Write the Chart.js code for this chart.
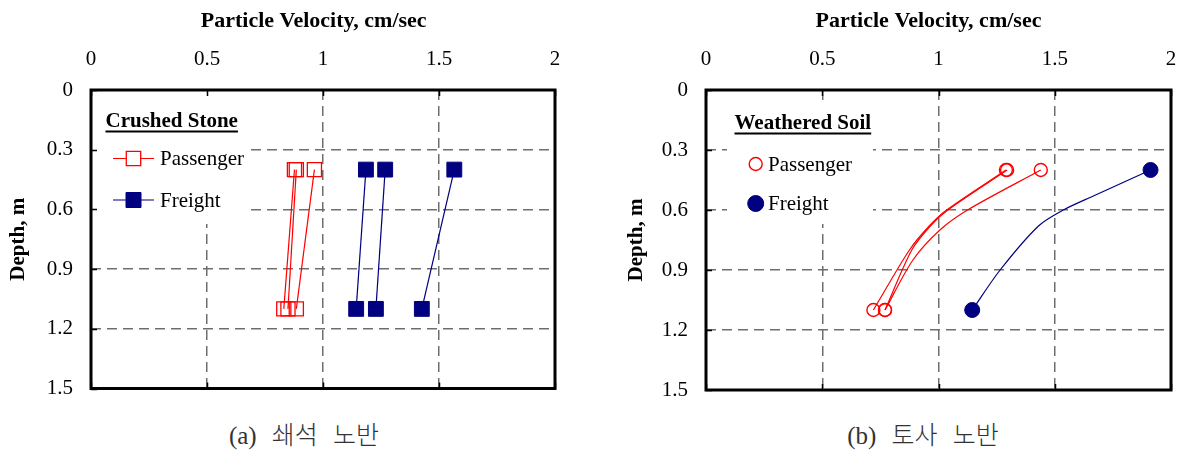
<!DOCTYPE html>
<html>
<head>
<meta charset="utf-8">
<script src="https://cdn.jsdelivr.net/npm/chart.js@4.4.1/dist/chart.umd.min.js"></script>
<style>
  html, body { margin: 0; padding: 0; background: #fff; }
  body { width: 1187px; height: 459px; position: relative; overflow: hidden; }
  canvas { position: absolute; top: 0; }
  #stone { left: 0; }
  #soil { left: 600px; }
  .caption {
    position: absolute; top: 420px; height: 32px; line-height: 32px;
    text-align: center; white-space: pre; word-spacing: 9px;
    font-family: "Liberation Serif", "Noto Sans CJK KR", serif;
    font-size: 25px; font-weight: 300; color: #333;
  }
</style>
</head>
<body>
<canvas id="stone" width="600" height="400"></canvas>
<canvas id="soil" width="587" height="400"></canvas>
<div class="caption" style="left:154px;width:300px">(a) 쇄석 노반</div>
<div class="caption" style="left:773px;width:300px">(b) 토사 노반</div>

<script>
// Axis ticks
const xTickValues = [0, 0.5, 1, 1.5, 2];
const xTickLabels = ['0', '0.5', '1', '1.5', '2'];
const yTickValues = [0, 0.3, 0.6, 0.9, 1.2, 1.5];
const yTickLabels = ['0', '0.3', '0.6', '0.9', '1.2', '1.5'];

// Crushed stone subgrade: particle velocity (cm/sec) at 0.4 m and 1.1 m depth
const stoneDepths = [0.4, 1.1];
const stonePassenger = [[0.877, 0.831], [0.885, 0.849], [0.963, 0.885]];
const stoneFreight = [[1.185, 1.143], [1.268, 1.228], [1.566, 1.426]];

// Weathered soil subgrade: velocity profiles with depth (m)
const soilPassengerDepths = [
  [0.4, 0.6, 0.68, 0.8, 1.1],
  [0.4, 0.6, 0.68, 0.8, 1.1],
  [0.4, 0.6, 0.7, 0.85, 1.1]
];
const soilPassenger = [
  [1.29, 1.035, 0.96, 0.875, 0.72],
  [1.295, 1.04, 0.965, 0.885, 0.77],
  [1.44, 1.125, 1.006, 0.89, 0.77]
];
const soilFreightDepths = [[0.4, 0.53, 0.6, 0.68, 0.9, 1.1]];
const soilFreight = [[1.912, 1.666, 1.537, 1.43, 1.265, 1.145]];

const RED = '#ff0000';
const NAVY = '#000080';
const GRID = '#6e6e6e';
const SERIF = '"Liberation Serif", "Times New Roman", serif';

function profiles(label, depthLists, valueLists, style) {
  return valueLists.map((vals, i) => ({
    label,
    data: vals.map((v, j) => ({ x: v, y: depthLists[i][j] })),
    ...style
  }));
}

// markers only at the measured end points of each profile
const endMarker = r => c => (c.dataIndex === 0 || c.dataIndex === c.dataset.data.length - 1) ? r : 0;

// White inset legend with underlined heading
const insetLegend = {
  id: 'insetLegend',
  beforeDatasetsDraw(chart, args, o) {
    const ctx = chart.ctx;
    const b = o.box;
    ctx.save();
    ctx.fillStyle = '#fff';
    ctx.fillRect(b.left, b.top, b.right - b.left, b.bottom - b.top);
    ctx.fillStyle = '#000';
    ctx.font = 'bold 21px ' + SERIF;
    ctx.textAlign = 'left';
    ctx.textBaseline = 'alphabetic';
    ctx.fillText(o.title, o.titleX, o.titleY);
    const w = ctx.measureText(o.title).width;
    ctx.fillRect(o.titleX, o.titleY + 3.5, w, 2);

    ctx.font = '21px ' + SERIF;
    ctx.textBaseline = 'middle';
    const seen = [];
    chart.data.datasets.forEach(ds => {
      if (seen.includes(ds.label)) return;
      const k = seen.length;
      seen.push(ds.label);
      const y = o.itemY + k * o.itemGap;
      const mx = o.markerX;
      if (o.lineHalf) {
        ctx.strokeStyle = ds.borderColor;
        ctx.lineWidth = ds.borderWidth;
        ctx.beginPath();
        ctx.moveTo(mx - o.lineHalf, y);
        ctx.lineTo(mx + o.lineHalf, y);
        ctx.stroke();
      }
      const r = o.markerSize[k];
      const filled = ds.pointBackgroundColor !== 'rgba(0,0,0,0)';
      ctx.fillStyle = filled ? ds.pointBackgroundColor : '#fff';
      ctx.strokeStyle = ds.pointBorderColor;
      ctx.lineWidth = ds.pointBorderWidth;
      ctx.beginPath();
      if (ds.pointStyle === 'rect') ctx.rect(mx - r, y - r, 2 * r, 2 * r);
      else ctx.arc(mx, y, r, 0, Math.PI * 2);
      ctx.fill();
      ctx.stroke();
      ctx.fillStyle = '#000';
      ctx.fillText(ds.label, o.textX, y + 1);
    });
    ctx.restore();
  }
};

// Plot frame with inward tick marks
const frame = {
  id: 'frame',
  afterDatasetsDraw(chart) {
    const { ctx, chartArea: a, scales: { x, y } } = chart;
    ctx.save();
    ctx.strokeStyle = '#000';
    ctx.lineWidth = 1.5;
    ctx.beginPath();
    x.ticks.forEach(t => {
      const px = Math.round(x.getPixelForValue(t.value)) + 0.5;
      ctx.moveTo(px, a.top); ctx.lineTo(px, a.top + 6);
      ctx.moveTo(px, a.bottom); ctx.lineTo(px, a.bottom - 6);
    });
    y.ticks.forEach(t => {
      const py = Math.round(y.getPixelForValue(t.value)) + 0.5;
      ctx.moveTo(a.left, py); ctx.lineTo(a.left + 6, py);
    });
    ctx.stroke();
    ctx.lineWidth = 3;
    ctx.strokeRect(a.left, a.top, a.right - a.left, a.bottom - a.top);
    ctx.restore();
  }
};

// Horizontal axis heading above the tick labels
const axisCaption = {
  id: 'axisCaption',
  afterDraw(chart, args, o) {
    const { ctx, chartArea: a } = chart;
    ctx.save();
    ctx.font = 'bold 22px ' + SERIF;
    ctx.fillStyle = '#000';
    ctx.textAlign = 'center';
    ctx.textBaseline = 'alphabetic';
    ctx.fillText(o.text, (a.left + a.right) / 2 + o.dx, o.baseline);
    ctx.restore();
  }
};

function buildOptions(cfg) {
  const tickFont = { family: SERIF, size: 21 };
  return {
    responsive: false,
    animation: false,
    events: [],
    layout: { padding: { left: 0, top: 0, right: cfg.padRight, bottom: 10 } },
    scales: {
      x: {
        type: 'linear', position: 'top', min: 0, max: 2,
        afterBuildTicks: s => { s.ticks = xTickValues.map(v => ({ value: v })); },
        afterFit: s => { s.height = 90; s.paddingLeft = 0; s.paddingRight = 0; },
        ticks: { padding: 18, color: '#000', font: tickFont, maxRotation: 0,
                 callback: (v, i) => xTickLabels[i] },
        grid: { color: GRID, lineWidth: 1.5, drawTicks: false },
        border: { display: false, dash: [10, 6] }
      },
      y: {
        type: 'linear', position: 'left', reverse: true, min: 0, max: 1.5,
        afterBuildTicks: s => { s.ticks = yTickValues.map(v => ({ value: v })); },
        afterFit: s => { s.width = cfg.yWidth; s.paddingTop = 0; s.paddingBottom = 0; },
        ticks: { padding: 18, color: '#000', font: tickFont,
                 callback: (v, i) => yTickLabels[i] },
        grid: { color: GRID, lineWidth: 1.5, drawTicks: false },
        border: { display: false, dash: [10, 6] },
        title: { display: true, text: 'Depth, m', color: '#000',
                 font: { family: SERIF, size: 21, weight: 'bold' },
                 padding: { top: cfg.yTitlePad, bottom: 0 } }
      }
    },
    plugins: {
      legend: { display: false },
      tooltip: { enabled: false },
      insetLegend: cfg.legend,
      axisCaption: { text: 'Particle Velocity, cm/sec', dx: cfg.titleDx, baseline: 27 }
    }
  };
}

// (a) Crushed stone
new Chart(document.getElementById('stone'), {
  type: 'line',
  data: {
    datasets: [
      ...profiles('Passenger', stonePassenger.map(() => stoneDepths), stonePassenger, {
        borderColor: RED, borderWidth: 1.2, tension: 0,
        pointStyle: 'rect', pointRadius: 10, pointBorderWidth: 1.3,
        pointBackgroundColor: 'rgba(0,0,0,0)', pointBorderColor: RED
      }),
      ...profiles('Freight', stoneFreight.map(() => stoneDepths), stoneFreight, {
        borderColor: NAVY, borderWidth: 1.2, tension: 0,
        pointStyle: 'rect', pointRadius: 10.5, pointBorderWidth: 1,
        pointBackgroundColor: NAVY, pointBorderColor: NAVY
      })
    ]
  },
  options: buildOptions({
    padRight: 45, yWidth: 91, yTitlePad: 5.7, titleDx: -9.3,
    legend: {
      title: 'Crushed Stone', titleX: 105.5, titleY: 127,
      box: { left: 91, top: 90, right: 251, bottom: 224 },
      markerX: 133.5, lineHalf: 20.5, textX: 160, itemY: 158.5, itemGap: 41.5,
      markerSize: [7.2, 7.5]
    }
  }),
  plugins: [insetLegend, frame, axisCaption]
});

// (b) Weathered soil
new Chart(document.getElementById('soil'), {
  type: 'line',
  data: {
    datasets: [
      ...profiles('Passenger', soilPassengerDepths, soilPassenger, {
        borderColor: RED, borderWidth: 1.2, tension: 0.3,
        pointStyle: 'circle', pointRadius: endMarker(6.5), pointBorderWidth: 1.4,
        pointBackgroundColor: 'rgba(0,0,0,0)', pointBorderColor: RED
      }),
      ...profiles('Freight', soilFreightDepths, soilFreight, {
        borderColor: NAVY, borderWidth: 1.2, tension: 0.3,
        pointStyle: 'circle', pointRadius: endMarker(7.5), pointBorderWidth: 1,
        pointBackgroundColor: NAVY, pointBorderColor: NAVY
      })
    ]
  },
  options: buildOptions({
    padRight: 16, yWidth: 106, yTitlePad: 24, titleDx: -10,
    legend: {
      title: 'Weathered Soil', titleX: 134.5, titleY: 129,
      box: { left: 127, top: 105, right: 273, bottom: 224 },
      markerX: 155.7, lineHalf: 0, textX: 168, itemY: 164, itemGap: 39.5,
      markerSize: [6.5, 8]
    }
  }),
  plugins: [insetLegend, frame, axisCaption]
});
</script>
</body>
</html>
